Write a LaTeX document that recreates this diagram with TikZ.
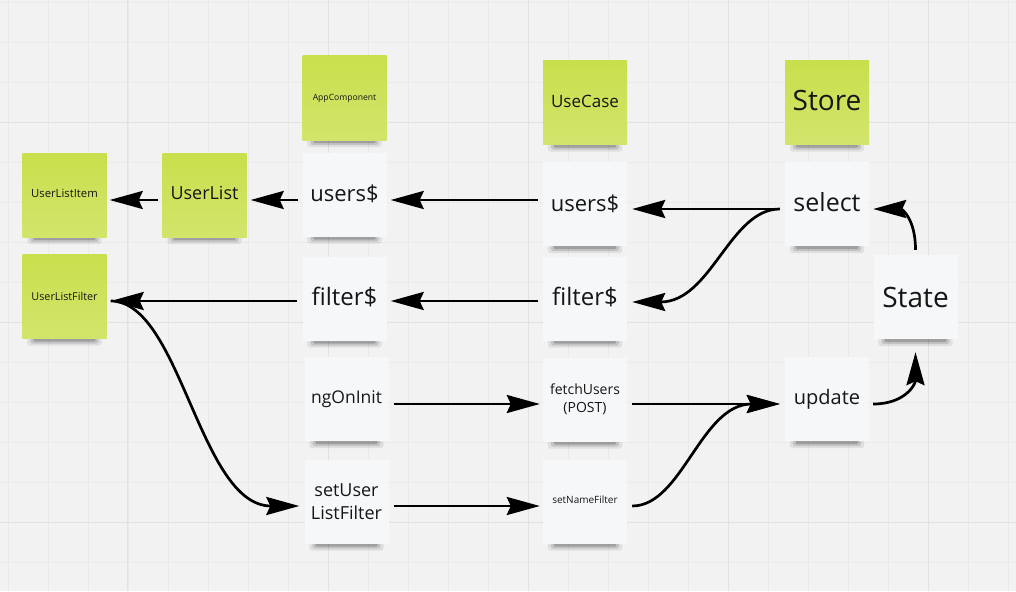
\documentclass[tikz,border=0pt]{standalone}
\usepackage{fontspec}
\setmainfont{Open Sans}
\usetikzlibrary{arrows.meta}
\pgfdeclarelayer{background}
\pgfsetlayers{background,main}
\definecolor{bgc}{HTML}{F2F2F2}
\definecolor{gridminor}{HTML}{EAEAEA}
\definecolor{gridmajor}{HTML}{E1E1E1}
\definecolor{gtop}{HTML}{CADF4C}
\definecolor{gbot}{HTML}{D3E46C}
\definecolor{wnote}{HTML}{F6F7F9}
\definecolor{txt}{HTML}{161616}
\newcommand{\fs}[1]{\fontsize{#1}{#1}\selectfont}
\tikzset{
  note/.style={rectangle, minimum width=84pt, minimum height=84pt, inner sep=0pt, align=center, text=txt},
  gnote/.style={note, top color=gtop, bottom color=gbot},
  wnotest/.style={note, fill=wnote},
  arr/.style={line width=2.7pt, draw=black, -{Stealth[length=33pt,width=18pt,inset=4pt]}},
  minorl/.style={draw=gridminor, line width=0.8pt},
  majorl/.style={draw=gridmajor, line width=1pt}
}
\begin{document}
\begin{tikzpicture}[x=1pt,y=-1pt]
\useasboundingbox (0,0) rectangle (1016,591);
\begin{pgfonlayer}{background}
\fill[bgc] (0,0) rectangle (1016,591);
\foreach \x in {8,48,...,1008} \draw[minorl] (\x,0) -- (\x,591);
\foreach \y in {2,42,...,590} \draw[minorl] (0,\y) -- (1016,\y);
\foreach \x in {127,328,528,728,928} \draw[majorl] (\x,0) -- (\x,591);
\foreach \y in {122,322,522} \draw[majorl] (0,\y) -- (1016,\y);
\end{pgfonlayer}

% green notes
\node[gnote, font=\fs{11.3}] (uli) at (64.5,195) {\raisebox{3pt}{UserListItem}};
\node[gnote, font=\fs{18}] (ul) at (204.5,195) {\raisebox{4pt}{UserList}};
\node[gnote, font=\fs{10.8}] (ufilt) at (64.5,296.5) {UserListFilter};
\node[gnote, font=\fs{8.6}] (app) at (344.5,98) {AppComponent};
\node[gnote, font=\fs{17}] (uc) at (585,102.5) {\raisebox{3pt}{UseCase}};
\node[gnote, font=\fs{28}] (store) at (827,102.5) {\raisebox{4pt}{Store}};

% white notes
\node[wnotest, font=\fs{22}] (ausers) at (344.5,194.5) {\raisebox{3pt}{users\$}};
\node[wnotest, font=\fs{22}] (cusers) at (585,204) {\raisebox{2pt}{users\$}};
\node[wnotest, font=\fs{25}] (select) at (827,204) {\raisebox{3pt}{select}};
\node[wnotest, font=\fs{28}] (state) at (915.5,297) {State};
\node[wnotest, font=\fs{24}] (afilter) at (344.5,298.5) {\raisebox{4pt}{filter\$}};
\node[wnotest, font=\fs{24}] (cfilter) at (585,298.5) {\raisebox{4pt}{filter\$}};
\node[wnotest, font=\fs{17.5}] (ngoninit) at (346.5,399) {\raisebox{2pt}{ngOnInit}};
\node[wnotest, font=\fontsize{14}{18}\selectfont] (fetch) at (585,399.5) {fetchUsers\\(POST)};
\node[wnotest, font=\fontsize{18}{23}\selectfont] (setulf) at (346.5,501.5) {setUser\\ListFilter};
\node[wnotest, font=\fs{10}] (setnf) at (585,501.5) {\raisebox{3pt}{setNameFilter}};
\node[wnotest, font=\fs{20}] (update) at (827,399) {\raisebox{2pt}{update}};

% shadows
\begin{pgfonlayer}{background}
\foreach \n in {uli,ul,ufilt,app,uc,store,ausers,cusers,select,state,afilter,cfilter,ngoninit,fetch,setulf,setnf,update}{
  \fill[black,opacity=0.08,rounded corners=3pt] ([xshift=5pt,yshift=1pt]\n.south west) rectangle ([xshift=-5pt,yshift=-7pt]\n.south east);
  \fill[black,opacity=0.12,rounded corners=3pt] ([xshift=8pt,yshift=1pt]\n.south west) rectangle ([xshift=-8pt,yshift=-5pt]\n.south east);
  \fill[black,opacity=0.18,rounded corners=2pt] ([xshift=11pt,yshift=1pt]\n.south west) rectangle ([xshift=-11pt,yshift=-3pt]\n.south east);
}
\end{pgfonlayer}

% connectors
\draw[arr] ([xshift=-4pt,yshift=-5pt]ul.west) -- ([xshift=3pt,yshift=-5pt]uli.east);
\draw[arr] ([xshift=-4pt,yshift=-5.5pt]ausers.west) -- ([xshift=4pt,yshift=-5pt]ul.east);
\draw[arr] ([xshift=-5pt,yshift=4pt]cusers.west) -- ([xshift=4pt,yshift=-5.5pt]ausers.east);
\draw[arr] ([xshift=-5pt,yshift=-5pt]select.west) -- ([xshift=5pt,yshift=-5pt]cusers.east);
\draw[arr] ([xshift=-5pt,yshift=-5pt]select.west) .. controls +(-50,0) and +(79,0) .. ([xshift=5pt,yshift=-3.5pt]cfilter.east);
\draw[arr] ([xshift=-5pt,yshift=-2.5pt]afilter.west) -- ([xshift=4pt,yshift=-4.5pt]ufilt.east);
\draw[arr] ([xshift=-5pt,yshift=-2.5pt]cfilter.west) -- ([xshift=4pt,yshift=-2.5pt]afilter.east);
\draw[arr] ([xshift=4pt,yshift=-4.5pt]ufilt.east) .. controls +(70,0) and +(-100,0) .. ([xshift=-5pt,yshift=-4.5pt]setulf.west);
\draw[arr] ([xshift=5pt,yshift=-5pt]ngoninit.east) -- ([xshift=-3pt,yshift=-4.5pt]fetch.west);
\draw[arr] ([xshift=5pt,yshift=-4.5pt]setulf.east) -- ([xshift=-3pt,yshift=-4.5pt]setnf.west);
\draw[arr] ([xshift=5pt,yshift=-4.5pt]fetch.east) -- ([xshift=-5pt,yshift=-5pt]update.west);
\draw[arr] ([xshift=5pt,yshift=-4.5pt]setnf.east) .. controls +(50,0) and +(-79,0) .. ([xshift=-5pt,yshift=-5pt]update.west);
\draw[arr] ([xshift=4pt,yshift=-5pt]update.east) .. controls +(32,0) and +(0,32) .. ([yshift=-13pt]state.south);
\draw[arr] ([yshift=5pt]state.north) .. controls +(0,-32) and +(28,0) .. ([xshift=4pt,yshift=-5pt]select.east);
\end{tikzpicture}
\end{document}
